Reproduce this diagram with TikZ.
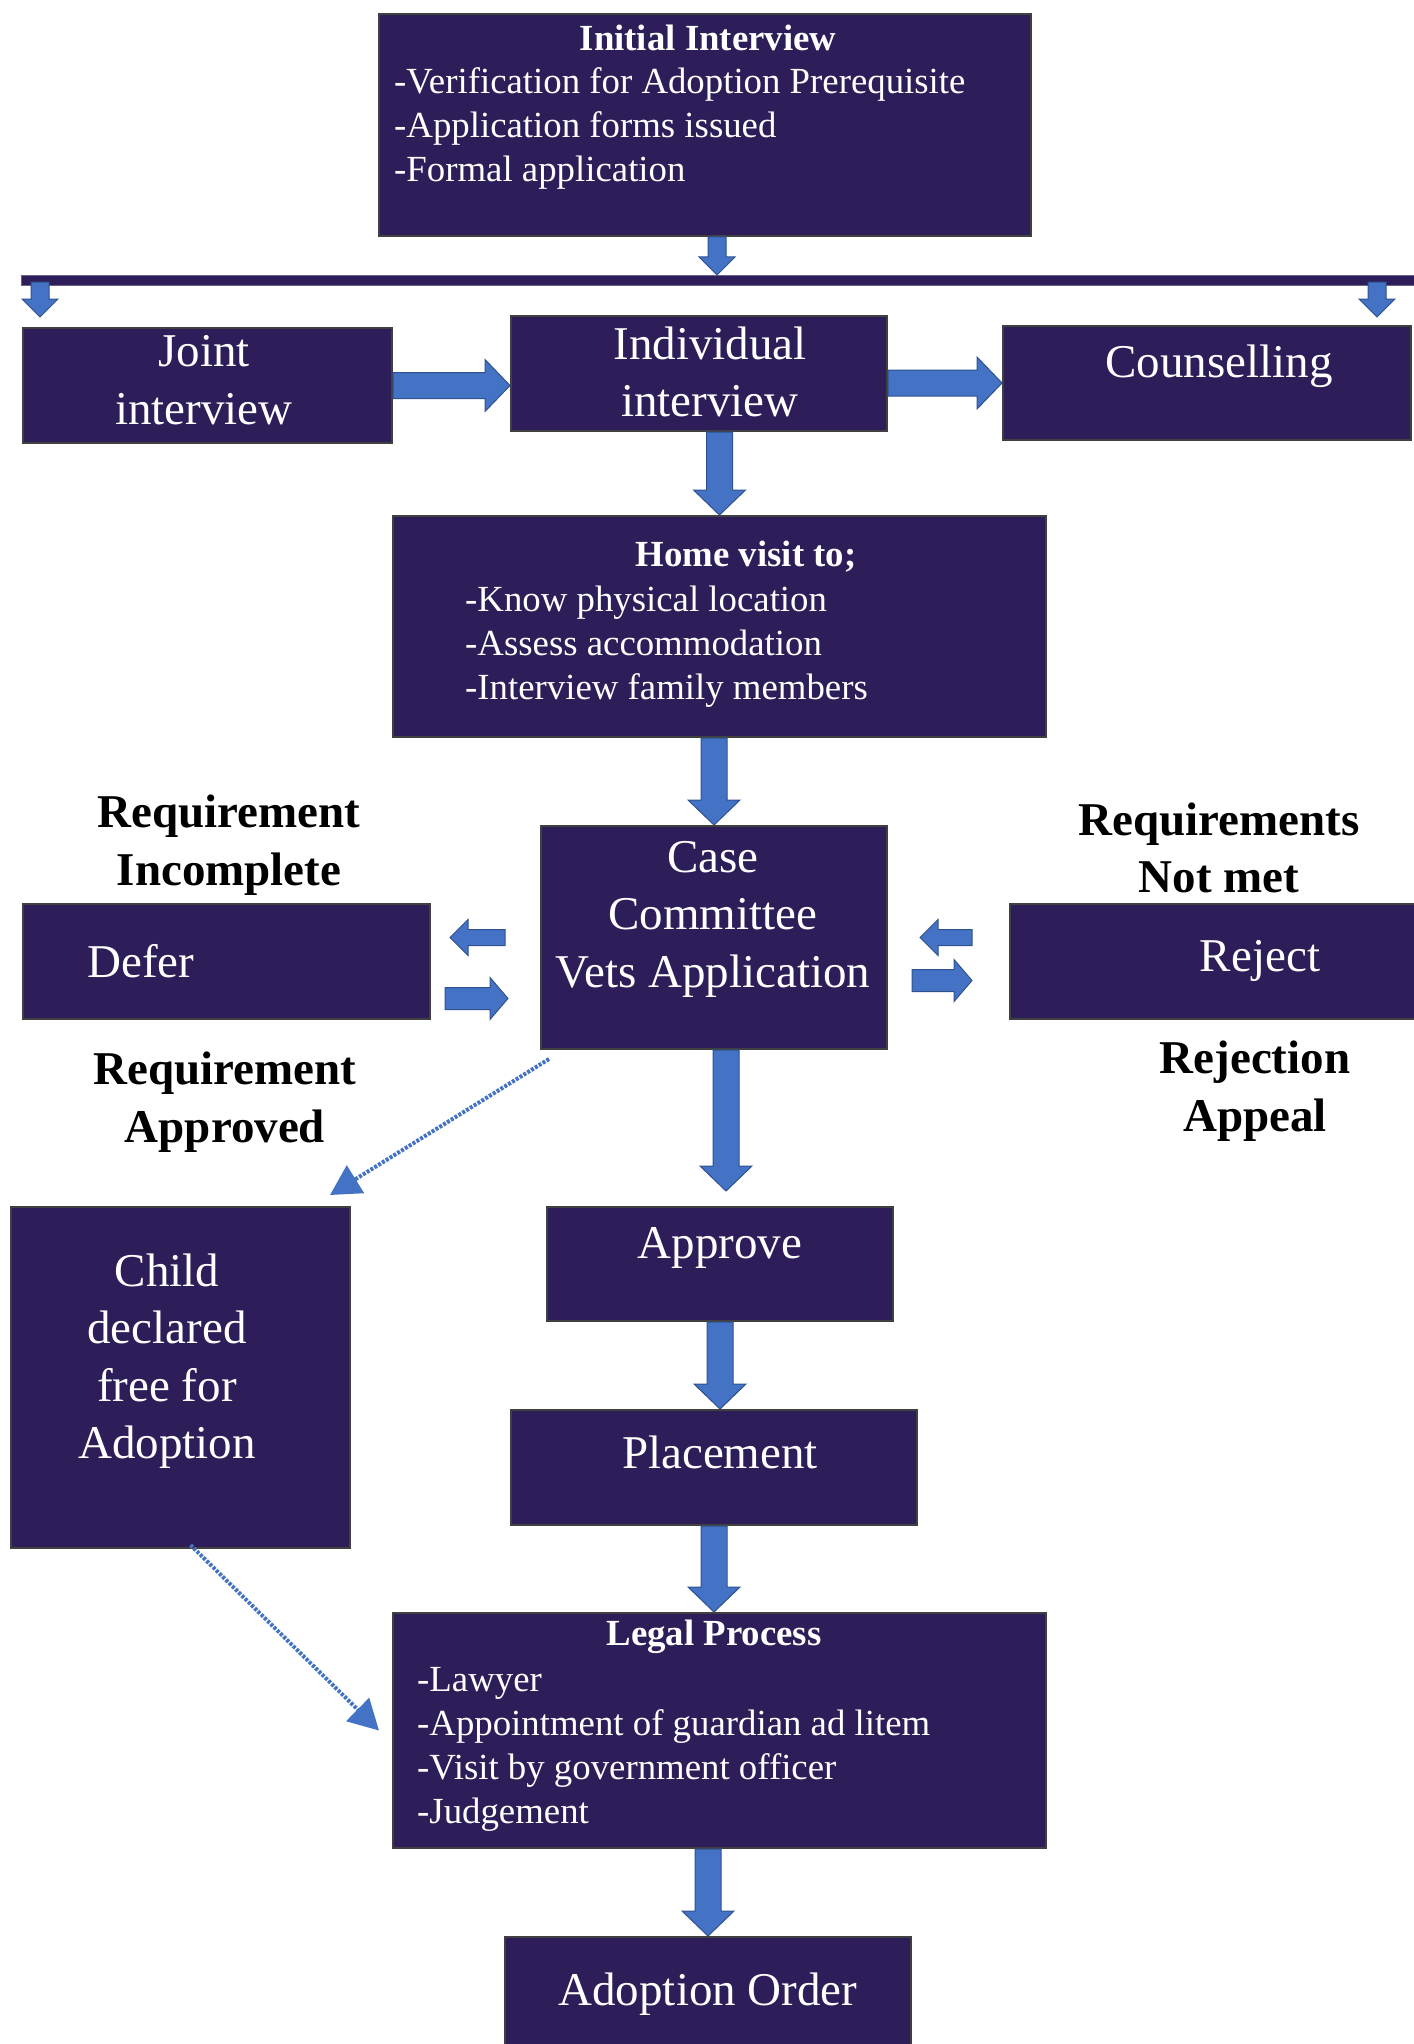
\documentclass[tikz,border=0pt]{standalone}
\usepackage{fontspec}
\setmainfont{Liberation Serif}
\usetikzlibrary{calc,arrows.meta}

\definecolor{boxfill}{RGB}{45,29,88}
\definecolor{arrowblue}{RGB}{68,114,196}
\definecolor{arrowedge}{RGB}{47,82,143}

% block arrow from #1 to #2: shaft half width #3, head half width #4, head length #5
\newcommand{\fatarrow}[5]{%
  \path #1 coordinate (fa) #2 coordinate (fb);
  \path ($(fb)!#5!(fa)$) coordinate (fc);
  \filldraw[blockarrow] ($(fa)!#3!90:(fb)$) -- ($(fc)!#3!-90:(fa)$) -- ($(fc)!#4!-90:(fa)$) -- (fb)
    -- ($(fc)!#4!90:(fa)$) -- ($(fc)!#3!90:(fa)$) -- ($(fa)!#3!-90:(fb)$) -- cycle;
}
\newcommand{\bigarrow}[2]{\fatarrow{#1}{#2}{13pt}{26pt}{25pt}}
\newcommand{\smallarrow}[2]{\fatarrow{#1}{#2}{9pt}{18pt}{18pt}}

\tikzset{
  box/.style={draw=black!75, line width=2, fill=boxfill, anchor=north west, inner sep=0},
  bigtxt/.style={text=white, align=center, font=\fontsize{47}{57.5}\selectfont, inner sep=0},
  smalltxt/.style={text=white, align=left, font=\fontsize{36.8}{44}\selectfont, inner sep=0},
  headtxt/.style={text=white, font=\fontsize{36.8}{44}\selectfont\bfseries, inner sep=0},
  note/.style={text=black, align=center, font=\fontsize{47}{57.5}\selectfont\bfseries, inner sep=0},
  blockarrow/.style={fill=arrowblue, draw=arrowedge, line width=1},
  thinarrow/.style={draw=arrowblue, line width=4, dash pattern=on 3pt off 1.5pt, -{Triangle[length=30pt,width=32pt]}}
}

\begin{document}
\begin{tikzpicture}[x=1pt,y=-1pt]
\useasboundingbox (0,0) rectangle (1413,2044);

% boxes
\node[box, minimum width=652, minimum height=222] (initial) at (378,13) {};
\node[box, draw=boxfill!70!white, line width=1, minimum width=1400, minimum height=10] (bar) at (21,275) {};
\node[box, minimum width=369, minimum height=115] (joint) at (22,327) {};
\node[box, minimum width=376, minimum height=115] (indiv) at (510,315) {};
\node[box, minimum width=408, minimum height=114] (couns) at (1002,325) {};
\node[box, minimum width=653, minimum height=221] (home) at (392,515) {};
\node[box, minimum width=346, minimum height=223] (case) at (540,825) {};
\node[box, minimum width=407, minimum height=115] (defer) at (22,903) {};
\node[box, minimum width=420, minimum height=115] (reject) at (1009,903) {};
\node[box, minimum width=346, minimum height=114] (approve) at (546,1206) {};
\node[box, minimum width=406, minimum height=115] (place) at (510,1409) {};
\node[box, minimum width=653, minimum height=235] (legal) at (392,1612) {};
\node[box, minimum width=406, minimum height=130] (adopt) at (504,1936) {};
\node[box, minimum width=339, minimum height=341] (child) at (10,1206) {};

% texts
\node[headtxt] (initialhead) at (708,38) {Initial Interview};
\node[smalltxt, anchor=west] (initiallist) at (394,128) {-Verification for Adoption Prerequisite\\-Application forms issued\\-Formal application};
\node[bigtxt] (jointtxt) at (204,380) {Joint\\interview};
\node[bigtxt] (indivtxt) at (710,372) {Individual\\interview};
\node[bigtxt] (counstxt) at (1219,366) {Counselling};
\node[headtxt] (homehead) at (746,557) {Home visit to;};
\node[smalltxt, anchor=west] (homelist) at (465,647) {-Know physical location\\-Assess accommodation\\-Interview family members};
\node[bigtxt] (casetxt) at (713,919) {Case\\Committee\\Vets Application};
\node[bigtxt] (defertxt) at (141,961) {Defer};
\node[bigtxt] (rejecttxt) at (1260,961) {Reject};
\node[bigtxt] (approvetxt) at (720,1248) {Approve};
\node[bigtxt] (placetxt) at (720,1452) {Placement};
\node[headtxt] (legalhead) at (714,1637) {Legal Process};
\node[smalltxt, anchor=west] (legallist) at (417,1749) {-Lawyer\\-Appointment of guardian ad litem\\-Visit by government officer\\-Judgement};
\node[bigtxt] (adopttxt) at (708,1994) {Adoption Order};
\node[bigtxt] (childtxt) at (167,1361) {Child\\declared\\free for\\Adoption};

% side notes
\node[note] (incomplete) at (229,845) {Requirement\\Incomplete};
\node[note] (notmet) at (1219,848) {Requirements\\Not met};
\node[note] (approved) at (225,1102) {Requirement\\Approved};
\node[note] (appeal) at (1255,1091) {Rejection\\Appeal};

% block arrows
\smallarrow{($(initial.south)+(12,0)$)}{($(initial.south |- bar.north)+(12,0)$)}
\smallarrow{($(bar.south -| joint.north west)+(18,-4)$)}{($(joint.north west)+(18,-10)$)}
\smallarrow{($(bar.south -| couns.north east)+(-35,-4)$)}{($(couns.north east)+(-35,-8)$)}
\bigarrow{(joint.east)}{(joint.east -| indiv.west)}
\bigarrow{(indiv.east |- couns.west)}{(couns.west)}
\bigarrow{(indiv.south -| home.north)}{(home.north)}
\bigarrow{(home.south -| case.north)}{(case.north)}
\bigarrow{($(case.south -| approve.north)+(6,0)$)}{($(approve.north)+(6,-15)$)}
\bigarrow{(approve.south)}{(approve.south |- place.north)}
\bigarrow{(place.south)}{(place.south |- legal.north)}
\bigarrow{(legal.south -| adopt.north)}{(adopt.north)}
\fatarrow{($(case.west)+(-35,0)$)}{($(defer.east |- case.west)+(19,0)$)}{8pt}{18pt}{18pt}
\fatarrow{($(defer.east)+(14,37)$)}{($(case.west |- defer.east)+(-32,37)$)}{11pt}{21pt}{18pt}
\fatarrow{($(reject.west |- case.east)+(-37,0)$)}{($(case.east)+(32,0)$)}{8pt}{18pt}{18pt}
\fatarrow{($(case.east)+(24,43)$)}{($(reject.west |- case.east)+(-37,43)$)}{11pt}{21pt}{18pt}

% thin arrows
\draw[thinarrow] ($(case.south west)+(9,9)$) -- ($(child.north east)+(-21,-11)$);
\draw[thinarrow] ($(child.south)+(10,-4)$) -- ($(legal.west)+(-13,0)$);
\end{tikzpicture}
\end{document}
